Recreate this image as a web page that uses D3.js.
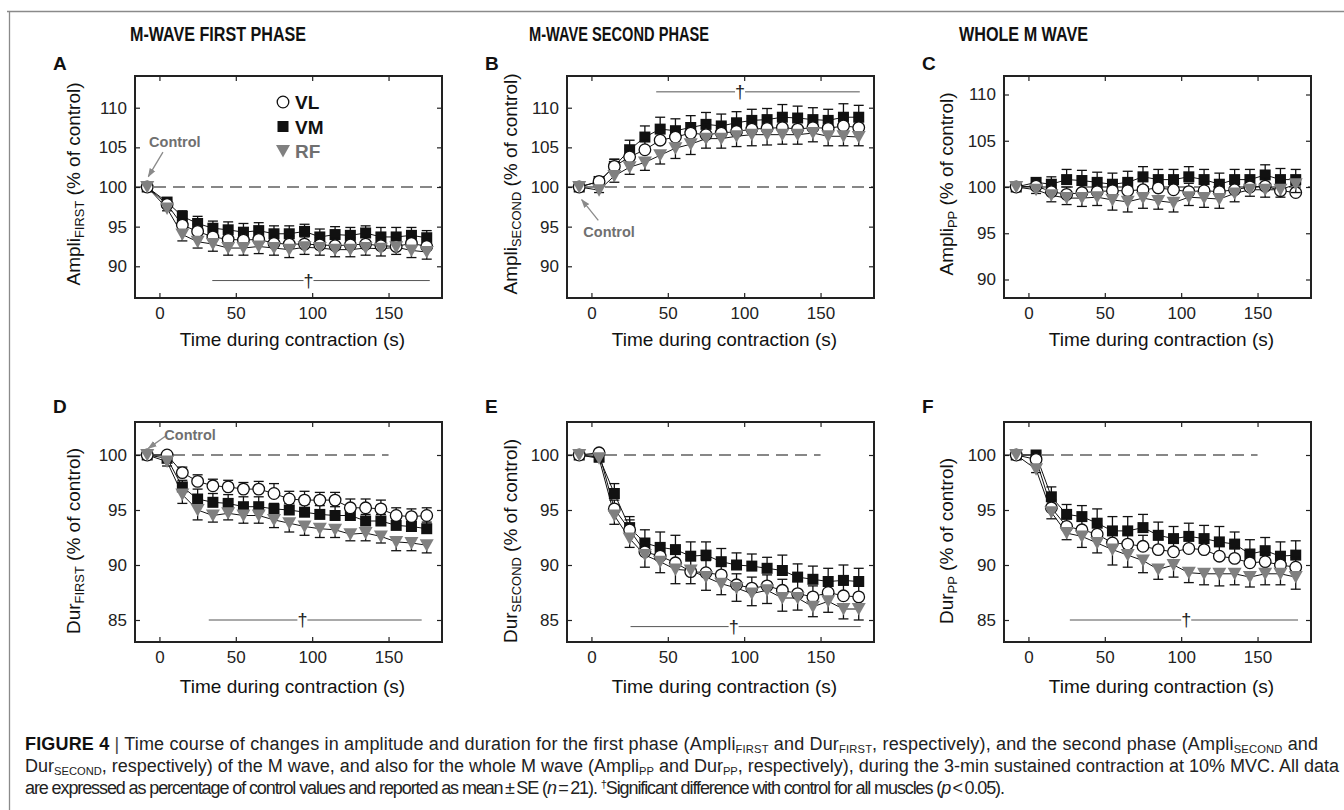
<!DOCTYPE html>
<html><head><meta charset="utf-8">
<script src="https://cdn.jsdelivr.net/npm/d3@7"></script>
<style>
body{margin:0;background:#fff}
svg{display:block}
text{font-family:"Liberation Sans",Arial,Helvetica,sans-serif}
</style>
</head><body>
<svg id="chart" width="1344" height="810"></svg>
<script>
// ---------------- DATA ----------------
const times = [-8, 5, 15, 25, 35, 45, 55, 65, 75, 85, 95, 105, 115, 125, 135, 145, 155, 165, 175];
const xTicks = [0, 50, 100, 150];
const ampTicks = [90, 95, 100, 105, 110];
const durTicks = [85, 90, 95, 100];
const columnTitles = ["M-WAVE FIRST PHASE", "M-WAVE SECOND PHASE", "WHOLE M WAVE"];
const panelLetters = ["A", "B", "C", "D", "E", "F"];
const seriesNames = ["VL", "VM", "RF"];

// A: Ampli FIRST
const amplFirstVL = [100, 97.8, 95.2, 94.4, 93.7, 93.4, 93.3, 93.4, 92.9, 92.8, 92.8, 92.7, 92.6, 92.7, 92.8, 92.6, 92.5, 92.9, 92.5];
const amplFirstVM = [100, 98.1, 96.3, 95.4, 94.8, 94.6, 94.3, 94.5, 94.1, 94.1, 94.4, 93.7, 94.0, 93.9, 94.2, 93.7, 93.7, 93.9, 93.6];
const amplFirstRF = [100, 97.3, 94.0, 93.1, 92.8, 92.3, 92.3, 92.5, 92.3, 92.1, 92.4, 92.3, 92.1, 92.1, 92.3, 92.2, 92.4, 92.0, 91.8];
const amplFirstVLse = [0, 0.3, 0.8, 0.9, 0.9, 0.9, 1.0, 0.9, 0.9, 1.0, 0.9, 0.9, 1.0, 0.9, 0.9, 1.0, 1.1, 0.9, 0.9];
const amplFirstVMse = [0, 0.3, 0.7, 0.9, 0.9, 1.0, 1.1, 1.0, 1.0, 1.0, 0.9, 1.0, 1.0, 1.0, 0.9, 1.2, 1.2, 1.0, 0.9];
const amplFirstRFse = [0, 0.3, 0.8, 0.8, 0.9, 0.9, 0.9, 0.9, 0.9, 1.0, 0.9, 0.9, 0.9, 0.9, 0.9, 0.9, 0.9, 0.9, 0.9];

// B: Ampli SECOND
const amplSecondVL = [100, 100.7, 102.6, 103.8, 104.7, 105.9, 106.3, 106.8, 106.6, 106.8, 107.0, 107.3, 107.4, 107.5, 107.3, 107.5, 107.4, 107.7, 107.5];
const amplSecondVM = [100, 100.7, 102.6, 104.7, 106.3, 107.3, 107.1, 107.5, 107.9, 107.7, 108.1, 108.4, 108.5, 108.8, 108.7, 108.5, 108.4, 108.8, 108.8];
const amplSecondRF = [100, 99.6, 101.4, 102.5, 103.1, 104.0, 104.9, 105.4, 106.1, 106.1, 106.4, 106.6, 106.6, 106.6, 106.6, 106.8, 106.4, 106.4, 106.3];
const amplSecondVLse = [0, 0.3, 0.9, 1.0, 1.2, 1.3, 1.3, 1.3, 1.3, 1.3, 1.3, 1.3, 1.3, 1.4, 1.3, 1.3, 1.3, 1.4, 1.3];
const amplSecondVMse = [0, 0.3, 0.9, 1.2, 1.4, 1.5, 1.5, 1.5, 1.5, 1.5, 1.4, 1.4, 1.4, 1.6, 1.5, 1.5, 1.4, 1.7, 1.5];
const amplSecondRFse = [0, 0.3, 0.8, 0.9, 1.0, 1.1, 1.3, 1.3, 1.2, 1.2, 1.3, 1.4, 1.3, 1.2, 1.2, 1.1, 1.2, 1.2, 1.1];

// C: Ampli PP
const amplPPVL = [100, 100.1, 99.5, 99.2, 99.4, 99.5, 99.6, 99.6, 99.7, 99.9, 99.7, 99.5, 99.6, 99.5, 99.7, 100.0, 100.1, 99.6, 99.4];
const amplPPVM = [100, 100.5, 100.3, 100.8, 100.7, 100.5, 100.3, 100.5, 101.1, 100.8, 100.8, 101.1, 100.8, 100.3, 100.8, 100.8, 101.3, 100.8, 100.8];
const amplPPRF = [100, 99.7, 99.1, 98.8, 98.8, 98.9, 98.6, 98.4, 98.8, 98.5, 98.3, 98.9, 98.8, 98.7, 99.3, 99.7, 99.7, 99.7, 100.3];
const amplPPVLse = [0, 0.3, 0.7, 0.8, 0.8, 0.9, 0.9, 1.0, 0.9, 0.9, 0.9, 0.9, 0.9, 1.0, 0.9, 0.8, 0.9, 0.9, 0.8];
const amplPPVMse = [0, 0.4, 0.8, 1.1, 1.1, 1.1, 1.2, 1.2, 1.1, 1.1, 1.1, 1.1, 1.1, 1.2, 1.1, 1.1, 1.1, 1.2, 1.1];
const amplPPRFse = [0, 0.4, 0.7, 0.7, 0.9, 0.9, 1.1, 1.1, 1.1, 0.9, 1.0, 0.9, 1.0, 1.0, 0.9, 0.7, 0.8, 0.8, 0.9];

// D: Dur FIRST
const durFirstVL = [100, 100.0, 98.4, 97.6, 97.2, 97.1, 96.9, 96.9, 96.5, 96.0, 95.9, 95.9, 95.9, 95.2, 95.2, 95.1, 94.5, 94.4, 94.5];
const durFirstVM = [100, 99.7, 97.1, 96.0, 95.7, 95.6, 95.3, 95.3, 95.1, 95.0, 94.8, 94.6, 94.5, 94.5, 94.0, 94.0, 93.6, 93.5, 93.3];
const durFirstRF = [100, 99.4, 96.4, 95.0, 94.5, 94.7, 94.5, 94.5, 94.1, 93.8, 93.5, 93.3, 93.2, 92.8, 92.9, 92.6, 92.1, 92.0, 91.8];
const durFirstVLse = [0, 0.2, 0.5, 0.6, 0.6, 0.6, 0.6, 0.7, 0.9, 0.7, 0.8, 0.7, 0.7, 0.8, 0.8, 0.8, 0.7, 0.7, 0.7];
const durFirstVMse = [0, 0.3, 0.6, 0.9, 0.8, 0.8, 0.9, 0.9, 0.5, 0.6, 0.7, 0.8, 0.8, 0.5, 0.6, 0.6, 0.6, 0.6, 0.6];
const durFirstRFse = [0, 0.4, 0.8, 0.9, 0.6, 0.6, 0.7, 0.7, 0.7, 0.8, 0.8, 0.8, 0.7, 0.6, 0.7, 0.6, 0.8, 0.7, 0.7];

// E: Dur SECOND
const durSecondVL = [100, 100.2, 95.1, 93.2, 91.2, 90.8, 90.2, 89.4, 89.3, 89.1, 88.2, 87.9, 88.1, 87.7, 87.4, 87.1, 87.5, 87.2, 87.1];
const durSecondVM = [100, 99.8, 96.5, 93.4, 92.0, 91.6, 91.4, 90.8, 90.9, 90.3, 90.0, 89.9, 89.7, 89.5, 88.9, 88.7, 88.5, 88.6, 88.5];
const durSecondRF = [100, 99.7, 94.5, 92.4, 90.9, 90.3, 89.6, 89.5, 88.9, 88.3, 87.9, 87.4, 87.7, 87.0, 87.0, 86.2, 86.7, 86.0, 86.0];
const durSecondVLse = [0, 0.2, 0.8, 0.9, 1.0, 1.0, 1.1, 1.1, 1.1, 1.0, 1.0, 1.0, 1.0, 1.0, 1.1, 1.0, 1.0, 1.0, 1.0];
const durSecondVMse = [0, 0.3, 0.9, 1.0, 1.2, 1.4, 1.3, 1.3, 1.2, 1.2, 1.1, 1.1, 1.0, 1.4, 1.2, 1.2, 1.2, 1.4, 1.2];
const durSecondRFse = [0, 0.3, 0.8, 0.8, 1.1, 1.0, 1.3, 1.2, 1.2, 1.0, 1.2, 1.1, 1.2, 1.2, 1.1, 0.9, 1.0, 0.9, 1.0];

// F: Dur PP
const durPPVL = [100, 99.6, 95.2, 93.5, 93.2, 92.8, 92.0, 91.9, 91.7, 91.4, 91.2, 91.5, 91.4, 90.8, 90.6, 90.2, 90.3, 90.0, 89.8];
const durPPVM = [100, 100.0, 96.2, 94.6, 94.4, 93.8, 93.1, 93.1, 93.4, 92.7, 92.4, 92.6, 92.4, 92.1, 91.9, 91.0, 91.3, 90.8, 90.9];
const durPPRF = [100, 98.7, 94.8, 92.9, 92.6, 92.0, 91.4, 90.9, 90.4, 89.6, 90.0, 89.3, 89.2, 89.2, 89.2, 88.9, 89.2, 89.2, 88.9];
const durPPVLse = [0, 0.2, 0.7, 0.8, 0.8, 0.9, 0.9, 0.9, 1.0, 0.9, 0.9, 0.8, 0.9, 0.9, 0.9, 1.0, 0.9, 0.9, 0.9];
const durPPVMse = [0, 0.2, 0.9, 0.9, 1.0, 1.3, 1.3, 1.3, 1.2, 1.2, 1.1, 1.2, 1.2, 1.4, 1.1, 1.3, 1.2, 1.3, 1.3];
const durPPRFse = [0, 0.3, 0.6, 0.6, 1.0, 0.9, 1.4, 1.1, 1.1, 0.9, 1.1, 0.9, 1.0, 1.1, 1.0, 0.9, 1.0, 1.0, 1.1];

// significance bars: [x start, x end, dagger x, y]
const sigA = [34.6, 177, 97.6, 88.2];
const sigB = [42.4, 175.7, 97.3, 112.0];
const sigD = [32.3, 171.7, 93.6, 85.0];
const sigE = [25.6, 176.3, 93.1, 84.4];
const sigF = [27.1, 176.5, 103.3, 85.0];

// "Control" annotations: [textX, textY, arrowFromX, arrowFromY, arrowToX, arrowToY]
const ctrlA = [-6.8, 105.1, 2.3, 104.4, -7.3, 101.3];
const ctrlB = [-5.3, 93.7, 4.5, 95.8, -6.4, 98.4];
const ctrlD = [3.2, 101.4, 4.8, 101.8, -7.3, 100.6];

// ---------------- LAYOUT ----------------
const svg = d3.select("#chart");
const colLeft = [135, 567, 1004];
const rowTop = [76, 422];
const rowH = [222, 220];
const W = 307;
const xDomain = [-16, 185];

const panels = [
  {letter:"A", col:0, row:0, dom:[86,114], ticks:ampTicks, lab:["Ampli","FIRST"], VL:amplFirstVL, VM:amplFirstVM, RF:amplFirstRF, VLse:amplFirstVLse, VMse:amplFirstVMse, RFse:amplFirstRFse, sig:sigA, ctrl:ctrlA, dashEnd:null, legend:true},
  {letter:"B", col:1, row:0, dom:[86,114], ticks:ampTicks, lab:["Ampli","SECOND"], VL:amplSecondVL, VM:amplSecondVM, RF:amplSecondRF, VLse:amplSecondVLse, VMse:amplSecondVMse, RFse:amplSecondRFse, sig:sigB, ctrl:ctrlB, dashEnd:null},
  {letter:"C", col:2, row:0, dom:[88,112], ticks:ampTicks, lab:["Ampli","PP"], VL:amplPPVL, VM:amplPPVM, RF:amplPPRF, VLse:amplPPVLse, VMse:amplPPVMse, RFse:amplPPRFse, sig:null, ctrl:null, dashEnd:null},
  {letter:"D", col:0, row:1, dom:[83,103], ticks:durTicks, lab:["Dur","FIRST"], VL:durFirstVL, VM:durFirstVM, RF:durFirstRF, VLse:durFirstVLse, VMse:durFirstVMse, RFse:durFirstRFse, sig:sigD, ctrl:ctrlD, dashEnd:150},
  {letter:"E", col:1, row:1, dom:[83,103], ticks:durTicks, lab:["Dur","SECOND"], VL:durSecondVL, VM:durSecondVM, RF:durSecondRF, VLse:durSecondVLse, VMse:durSecondVMse, RFse:durSecondRFse, sig:sigE, ctrl:null, dashEnd:150},
  {letter:"F", col:2, row:1, dom:[83,103], ticks:durTicks, lab:["Dur","PP"], VL:durPPVL, VM:durPPVM, RF:durPPRF, VLse:durPPVLse, VMse:durPPVMse, RFse:durPPRFse, sig:sigF, ctrl:null, dashEnd:150}
];

// frame
svg.append("line").attr("x1",7).attr("x2",1344).attr("y1",11.5).attr("y2",11.5).attr("stroke","#8a8a8a").attr("stroke-width",1.3);
svg.append("line").attr("x1",9.5).attr("x2",9.5).attr("y1",11).attr("y2",810).attr("stroke","#8a8a8a").attr("stroke-width",1.3);

// arrow marker
const defs = svg.append("defs");
defs.append("marker").attr("id","arr").attr("viewBox","0 0 10 10").attr("refX",9).attr("refY",5)
  .attr("markerWidth",7).attr("markerHeight",7).attr("orient","auto-start-reverse")
  .append("path").attr("d","M0,1.5 L10,5 L0,8.5 Z").attr("fill","#8a8a8a");

// column titles
const titleX = [218, 619, 1023.5];
const titleW = [176, 180, 129];
columnTitles.forEach((t,i)=>{
  svg.append("text").attr("x",titleX[i]).attr("y",41).attr("text-anchor","middle")
    .attr("font-family",'"Liberation Sans Narrow","Arial Narrow",Arial,sans-serif')
    .attr("font-weight","bold").attr("font-size",20).attr("fill","#111")
    .attr("textLength",titleW[i]).attr("lengthAdjust","spacingAndGlyphs").text(t);
});

function subLabel(sel, base, sub, rest, size){
  sel.append("tspan").text(base);
  sel.append("tspan").attr("font-size",size*0.68).attr("dy",size*0.22).text(sub);
  sel.append("tspan").attr("dy",-size*0.22).text(rest);
}

const triPath = "M-7,-6 L7,-6 L0,6.5 Z";

panels.forEach(p=>{
  const x0 = colLeft[p.col], y0 = rowTop[p.row], H = rowH[p.row];
  const x = d3.scaleLinear().domain(xDomain).range([x0, x0+W]);
  const y = d3.scaleLinear().domain(p.dom).range([y0+H, y0]);
  const g = svg.append("g");

  // panel letter
  g.append("text").attr("x",x0-82).attr("y",y0-(p.row===0?6:9)).attr("font-weight","bold")
    .attr("font-size",19).attr("fill","#111").text(p.letter);

  // axes (inner ticks, box)
  const tickLen = 5;
  const axB = d3.axisBottom(x).tickValues(xTicks).tickSize(-tickLen).tickPadding(9);
  const axT = d3.axisTop(x).tickValues(xTicks).tickSize(-tickLen).tickFormat("");
  const axL = d3.axisLeft(y).tickValues(p.ticks).tickSize(-tickLen).tickPadding(8);
  const axR = d3.axisRight(y).tickValues(p.ticks).tickSize(-tickLen).tickFormat("");
  const gb = g.append("g").attr("transform",`translate(0,${y0+H})`).call(axB);
  const gt = g.append("g").attr("transform",`translate(0,${y0})`).call(axT);
  const gl = g.append("g").attr("transform",`translate(${x0},0)`).call(axL);
  const gr = g.append("g").attr("transform",`translate(${x0+W},0)`).call(axR);
  [gb,gt,gl,gr].forEach(a=>{
    a.select(".domain").remove();
    a.selectAll(".tick line").attr("stroke","#222").attr("stroke-width",1.2);
    a.selectAll("text").attr("font-size",17).attr("fill","#222")
      .attr("font-family",'"Liberation Sans",Arial,sans-serif');
  });
  gb.selectAll("text").attr("dy","0.71em");

  // dashed control line
  g.append("line").attr("x1",x0).attr("x2",p.dashEnd===null? x0+W : x(p.dashEnd))
    .attr("y1",y(100)).attr("y2",y(100)).attr("stroke","#111").attr("stroke-width",1.2)
    .attr("stroke-dasharray","12,7");

  // significance bar
  if(p.sig){
    const [sx1,sx2,dx,sy] = p.sig;
    g.append("line").attr("x1",x(sx1)).attr("x2",x(dx)-5).attr("y1",y(sy)).attr("y2",y(sy)).attr("stroke","#555").attr("stroke-width",1);
    g.append("line").attr("x1",x(dx)+5).attr("x2",x(sx2)).attr("y1",y(sy)).attr("y2",y(sy)).attr("stroke","#555").attr("stroke-width",1);
    g.append("text").attr("x",x(dx)).attr("y",y(sy)+6).attr("text-anchor","middle").attr("font-size",18).attr("fill","#222").text("\u2020");
  }

  // series
  const order = [
    {key:"VM", dir:1},
    {key:"VL", dir:1},
    {key:"RF", dir:-1}
  ];
  const line = d3.line().x((d,i)=>x(times[i])).y(d=>y(d));
  order.forEach(s=>{
    g.append("path").datum(p[s.key]).attr("d",line).attr("fill","none").attr("stroke","#111").attr("stroke-width",1);
  });
  order.forEach(s=>{
    const vals = p[s.key], se = p[s.key+"se"];
    const sg = g.append("g");
    vals.forEach((v,i)=>{
      if(se[i] <= 0) return;
      const yy = y(v + s.dir*se[i]);
      const col = "#111";
      sg.append("line").attr("x1",x(times[i])).attr("x2",x(times[i])).attr("y1",y(v)).attr("y2",yy).attr("stroke",col).attr("stroke-width",1.3);
      sg.append("line").attr("x1",x(times[i])-5).attr("x2",x(times[i])+5).attr("y1",yy).attr("y2",yy).attr("stroke",col).attr("stroke-width",1.3);
    });
    vals.forEach((v,i)=>{
      const cx = x(times[i]), cy = y(v);
      if(s.key==="VL"){
        sg.append("circle").attr("cx",cx).attr("cy",cy).attr("r",5.8).attr("fill","#fff").attr("stroke","#111").attr("stroke-width",1.3);
      } else if(s.key==="VM"){
        sg.append("rect").attr("x",cx-5.5).attr("y",cy-5.5).attr("width",11).attr("height",11).attr("fill","#111");
      } else {
        sg.append("path").attr("d",triPath).attr("transform",`translate(${cx},${cy})`).attr("fill","#808080");
      }
    });
  });

  // control annotation
  if(p.ctrl){
    const [tx,ty,ax1,ay1,ax2,ay2] = p.ctrl;
    g.append("line").attr("x1",x(ax1)).attr("y1",y(ay1)).attr("x2",x(ax2)).attr("y2",y(ay2))
      .attr("stroke","#8a8a8a").attr("stroke-width",1.3).attr("marker-end","url(#arr)");
    g.append("text").attr("x",x(tx)).attr("y",y(ty)).attr("font-weight","bold").attr("font-size",14.5)
      .attr("fill","#707070").text("Control");
  }

  // legend
  if(p.legend){
    const lx = x0+148, ly = y0+26;
    const gap = 24.5;
    g.append("circle").attr("cx",lx).attr("cy",ly).attr("r",5.8).attr("fill","#fff").attr("stroke","#111").attr("stroke-width",1.3);
    g.append("rect").attr("x",lx-5.5).attr("y",ly+gap-5.5).attr("width",11).attr("height",11).attr("fill","#111");
    g.append("path").attr("d",triPath).attr("transform",`translate(${lx},${ly+2*gap})`).attr("fill","#808080");
    seriesNames.forEach((n,i)=>{
      g.append("text").attr("x",lx+12).attr("y",ly+i*gap+7).attr("font-weight","bold").attr("font-size",19)
        .attr("fill", n==="RF" ? "#707070" : "#111").text(n);
    });
  }

  // box
  g.append("rect").attr("x",x0).attr("y",y0).attr("width",W).attr("height",H)
    .attr("fill","none").attr("stroke","#222").attr("stroke-width",2);

  // x label
  g.append("text").attr("x",x0+W/2+4).attr("y",y0+H+(p.row===0?48:51)).attr("text-anchor","middle")
    .attr("font-size",19).attr("fill","#111").text("Time during contraction (s)");

  // y label
  const ylx = x0 - (p.col===0?55:(p.col===1?50:51));
  const yly = p.row===0 ? 184 : 541;
  const yl = g.append("text").attr("transform",`translate(${ylx},${yly}) rotate(-90)`).attr("text-anchor","middle")
    .attr("font-size",19).attr("fill","#111");
  subLabel(yl, p.lab[0], p.lab[1], " (% of control)", 19);
});

// caption
const capParts = [
  [ {t:"FIGURE 4", b:true}, {t:" | ", c:"#444"}, {t:"Time course of changes in amplitude and duration for the first phase (Ampli"}, {t:"FIRST", sub:true}, {t:" and Dur"}, {t:"FIRST", sub:true}, {t:", respectively), and the second phase (Ampli"}, {t:"SECOND", sub:true}, {t:" and"} ],
  [ {t:"Dur"}, {t:"SECOND", sub:true}, {t:", respectively) of the M wave, and also for the whole M wave (Ampli"}, {t:"PP", sub:true}, {t:" and Dur"}, {t:"PP", sub:true}, {t:", respectively), during the 3-min sustained contraction at 10% MVC. All data"} ],
  [ {t:"are expressed as percentage of control values and reported as mean\u2009±\u2009SE ("}, {t:"n", i:true}, {t:"\u2009=\u200921). "}, {t:"\u2020", sup:true}, {t:"Significant difference with control for all muscles ("}, {t:"p", i:true}, {t:"\u2009<\u20090.05)."} ]
];
const capY = [750, 772, 794];
const capLen = [1293, 1316, 980];
const baseSize = 16;
const capTexts = [];
capParts.forEach((parts,li)=>{
  const t = svg.append("text").attr("x",25).attr("y",capY[li]).attr("font-size",baseSize).attr("fill","#222");
  let shift = 0;
  parts.forEach(pt=>{
    const ts = t.append("tspan").text(pt.t);
    if(pt.b) ts.attr("font-weight","bold").attr("fill","#111");
    if(pt.i) ts.attr("font-style","italic");
    if(pt.c) ts.attr("fill",pt.c);
    let target = 0;
    if(pt.sub){ ts.attr("class","sub"); target = 3; }
    if(pt.sup){ ts.attr("class","sup"); target = -6; }
    if(target!==shift){ ts.attr("dy",target-shift); shift = target; }
  });
  capTexts.push(t);
});
function setCapSize(sz){
  capTexts.forEach(t=>{
    t.attr("font-size",sz);
    t.selectAll("tspan.sub, tspan.sup").attr("font-size",sz*0.62);
  });
}
setCapSize(baseSize);
const w0 = capTexts[0].node().getComputedTextLength();
const capSize = Math.min(18, baseSize*capLen[0]/w0);
setCapSize(capSize);
capTexts.forEach((t,i)=>{
  const w = t.node().getComputedTextLength();
  if(Math.abs(w-capLen[i]) > 2) t.attr("textLength",capLen[i]).attr("lengthAdjust","spacing");
});
</script>
</body></html>
